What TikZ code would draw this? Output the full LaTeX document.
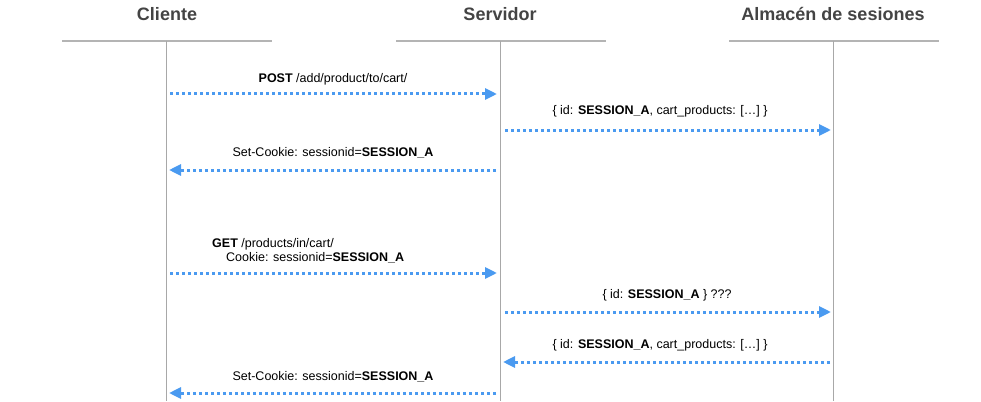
\documentclass[tikz,border=0pt]{standalone}
\usepackage{fontspec}
\setmainfont{Liberation Sans}
\usetikzlibrary{arrows.meta}
\definecolor{msgblue}{HTML}{4A9AF0}
\definecolor{headgray}{HTML}{444444}
\definecolor{linegray}{HTML}{B4B4B4}
\definecolor{lifegray}{HTML}{A8A8A8}
\begin{document}
\begin{tikzpicture}[x=1pt,y=-1pt,
  head/.style={font=\fontsize{18}{21}\selectfont\bfseries, text=headgray, inner sep=0pt},
  headline/.style={draw=linegray, line width=2pt},
  lifeline/.style={draw=lifegray, line width=1pt},
  msg/.style={draw=msgblue, line width=3pt, dash pattern=on 3pt off 3pt,
    -{Triangle[length=12pt,width=11pt,fill=msgblue]}},
  lbl/.style={font=\fontsize{12.5}{14.5}\selectfont, inner sep=0pt, text=black}]
\useasboundingbox (0,0) rectangle (981,401);
% headers
\node[head] (hc) at (167,14) {Cliente};
\node[head] (hs) at (500,14) {Servidor};
\node[head] (ha) at (833,14) {Almacén de sesiones};
\draw[headline] (62,41) -- (272,41);
\draw[headline] (396,41) -- (606,41);
\draw[headline] (729,41) -- (939,41);
% lifelines
\coordinate (ct) at (166.5,41); \coordinate (cb) at (166.5,401);
\coordinate (st) at (500,41);   \coordinate (sb) at (500,401);
\coordinate (at) at (833,41);   \coordinate (ab) at (833,401);
\draw[lifeline] (ct) -- (cb);
\draw[lifeline] (st) -- (sb);
\draw[lifeline] (at) -- (ab);
% message anchors
\coordinate (m1a) at (170,94);  \coordinate (m1b) at (497,94);
\coordinate (m2a) at (505,130); \coordinate (m2b) at (831,130);
\coordinate (m3a) at (496,170); \coordinate (m3b) at (169,170);
\coordinate (m4a) at (170,273); \coordinate (m4b) at (497,273);
\coordinate (m5a) at (505,312); \coordinate (m5b) at (831,312);
\coordinate (m6a) at (830,362); \coordinate (m6b) at (503,362);
\coordinate (m7a) at (496,393); \coordinate (m7b) at (169,393);
\draw[msg] (m1a) -- (m1b);
\draw[msg] (m2a) -- (m2b);
\draw[msg] (m3a) -- (m3b);
\draw[msg] (m4a) -- (m4b);
\draw[msg] (m5a) -- (m5b);
\draw[msg] (m6a) -- (m6b);
\draw[msg] (m7a) -- (m7b);
% labels
\node[lbl] (l1) at (333,79) {\textbf{POST} /add/product/to/cart/};
\node[lbl] (l2) at (660,111) {\{ id: \textbf{SESSION\_A}, cart\_products: [\dots] \}};
\node[lbl] (l3) at (333,153) {Set-Cookie: sessionid=\textbf{SESSION\_A}};
\node[lbl, anchor=west] (l4a) at (212,244) {\textbf{GET} /products/in/cart/};
\node[lbl, anchor=west] (l4b) at (226,258) {Cookie: sessionid=\textbf{SESSION\_A}};
\node[lbl] (l5) at (667,295) {\{ id: \textbf{SESSION\_A} \} ???};
\node[lbl] (l6) at (660,345) {\{ id: \textbf{SESSION\_A}, cart\_products: [\dots] \}};
\node[lbl] (l7) at (333,377) {Set-Cookie: sessionid=\textbf{SESSION\_A}};
\end{tikzpicture}
\end{document}
